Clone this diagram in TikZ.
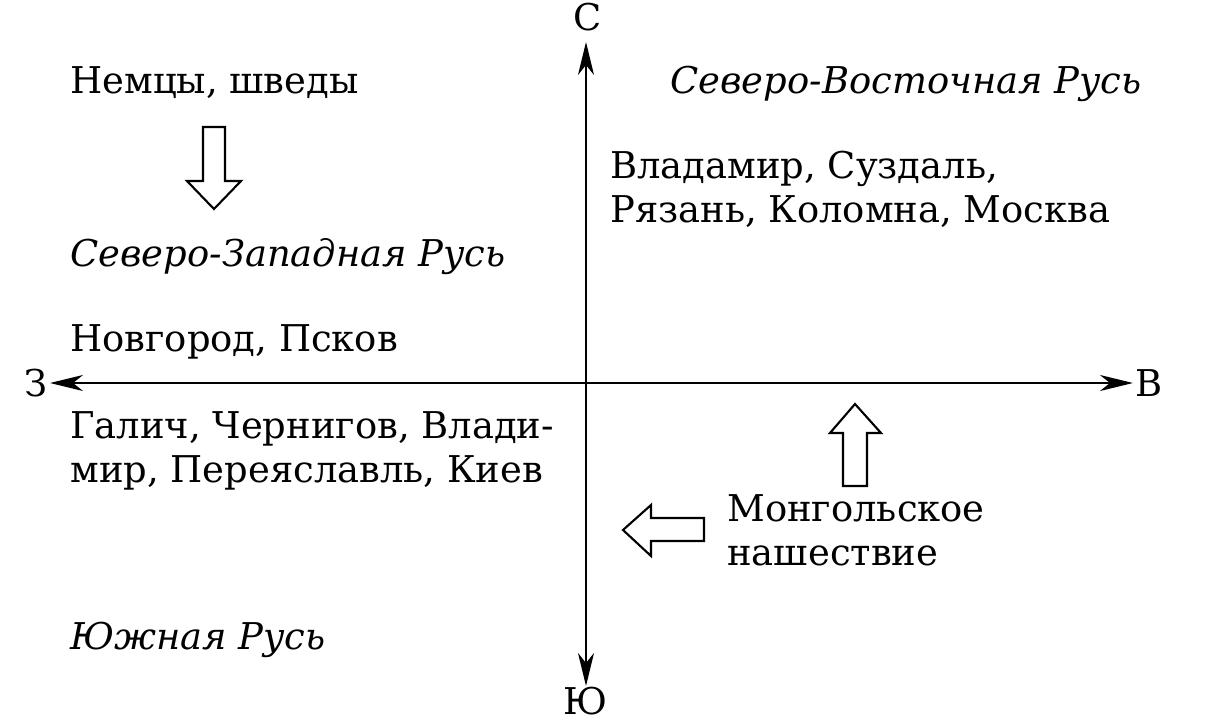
\documentclass[tikz,border=0pt]{standalone}
\usepackage{fontspec}
\setmainfont{DejaVu Serif}
\usetikzlibrary{arrows.meta}

\begin{document}
\begin{tikzpicture}[x=0.02cm,y=-0.02cm,
  txt/.style={inner sep=0pt,anchor=base west,align=left,font=\fontsize{21}{25}\selectfont},
  region/.style={txt,font=\fontsize{21}{25}\selectfont\itshape},
  side/.style={inner sep=1pt,font=\fontsize{21}{25}\selectfont},
  axis/.style={line width=1.2pt,{Stealth[length=0.66cm,width=0.32cm,inset=0.2cm]}-{Stealth[length=0.66cm,width=0.32cm,inset=0.2cm]}},
  hollow/.style={line width=1.2pt,line join=miter}]
\useasboundingbox (0,0) rectangle (1205,724);
% compass labels
\node [side,anchor=base] (north) at (588,30) {С};
\node [side,anchor=base] (south) at (586,714) {Ю};
\node [side,anchor=east] (west) at (50,383) {З};
\node [side,anchor=west] (east) at (1133,383) {В};
\coordinate (ntip) at (586,42);
\coordinate (stip) at (586,686);
\draw [axis] (west.east) -- (east.west);
\draw [axis] (stip) -- (ntip);
% north-west
\node [txt] (invaders) at (70,93) {Немцы, шведы};
\draw [hollow] (203,127) -- (225,127) -- (225,181) -- (241,181) -- (214,209) -- (187,181) -- (203,181) -- cycle;
\node [region] (nwrus) at (70,266) {Северо-Западная Русь};
\node [txt] (nwcities) at (70,351) {Новгород, Псков};
% south
\node [txt] (scities) at (70,482) {Галич, Чернигов, Влади-\\мир, Переяславль, Киев};
\node [region] (srus) at (70,649) {Южная Русь};
% north-east
\node [region] (nerus) at (670,93) {Северо-Восточная Русь};
\node [txt] (necities) at (610,222) {Владамир, Суздаль,\\Рязань, Коломна, Москва};
% mongols
\draw [hollow] (843,486) -- (843,433) -- (830,433) -- (855,404) -- (881,433) -- (867,433) -- (867,486) -- cycle;
\draw [hollow] (704,518) -- (651,518) -- (651,505) -- (623,530) -- (651,556) -- (651,541) -- (704,541) -- cycle;
\node [txt] (mongols) at (727,565) {Монгольское\\нашествие};
\end{tikzpicture}
\end{document}
